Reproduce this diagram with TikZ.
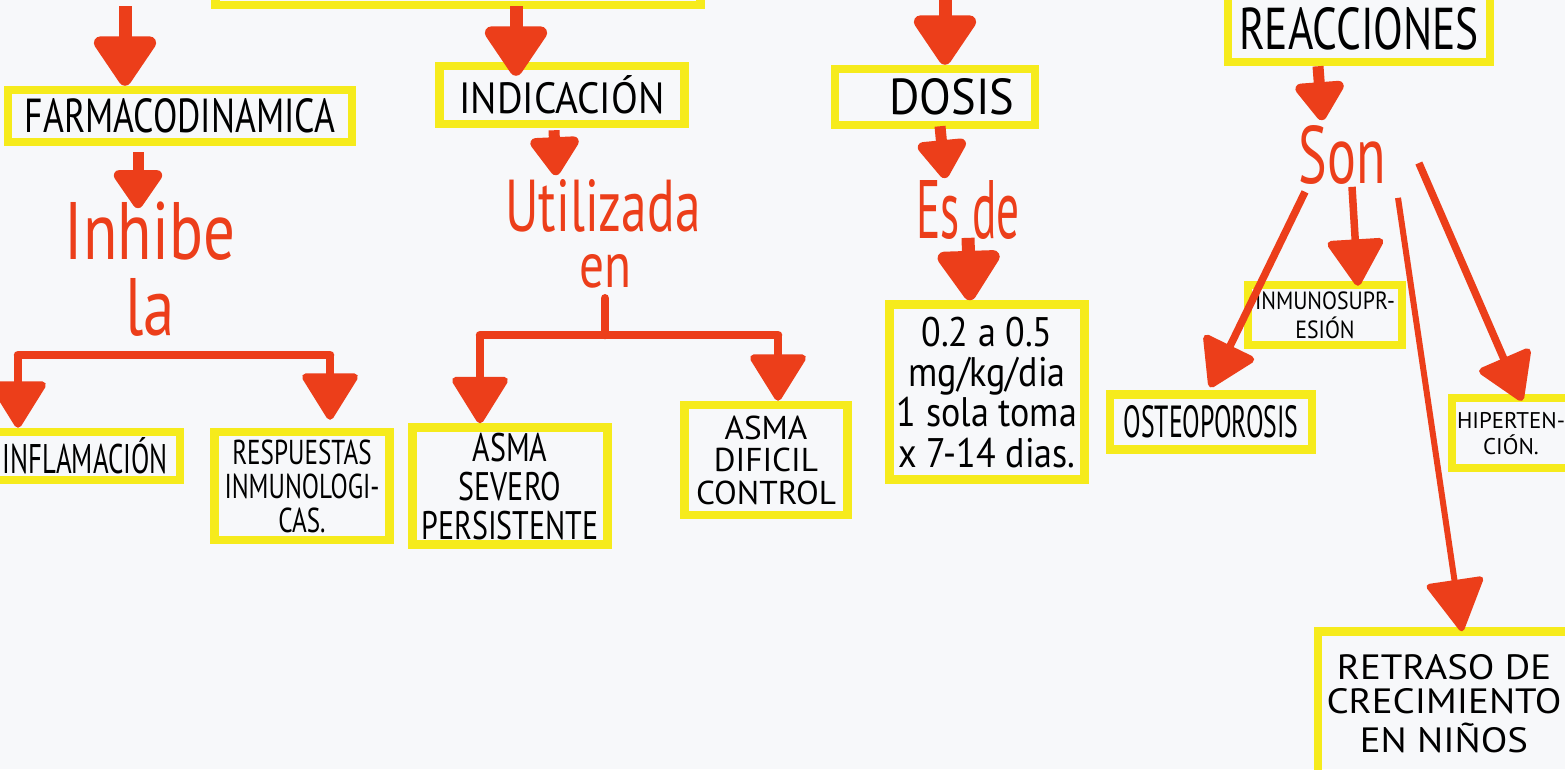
\documentclass[tikz,border=0pt]{standalone}
\usepackage{fontspec}
\setmainfont{PT Sans}
\usepackage{graphicx}
\usetikzlibrary{arrows.meta,calc}
\newlength\pxu \setlength\pxu{0.02cm}
\definecolor{redc}{RGB}{236,62,26}
\definecolor{yel}{RGB}{246,235,28}
\definecolor{bg}{RGB}{247,248,250}
% multi-line label stretched to a given width and height (in px), tight lines
\newcommand\hw[4][0.72]{\raisebox{0pt}[\height][0pt]{\resizebox{#2\pxu}{#3\pxu}{\def\arraystretch{#1}\begin{tabular}[b]{@{}c@{}}\rule{0pt}{0.72em}#4\end{tabular}}}}
% single-line label
\newcommand\hs[3]{\resizebox{#1\pxu}{#2\pxu}{#3}}
\tikzset{
  big/.style={draw=redc, line width=0.26cm, -{Triangle[width=1.4cm,length=1.1cm,round]}},
  mid/.style={draw=redc, line width=0.22cm, -{Triangle[width=1.1cm,length=0.85cm,round]}},
  thin/.style={draw=redc, line width=0.15cm, -{Triangle[width=1.2cm,length=1.0cm,round]}},
  brk/.style={draw=redc, line width=0.17cm, line cap=round, line join=round},
  box/.style={draw=yel, line width=0.17cm, inner sep=0pt, rectangle},
  rtxt/.style={text=redc, inner sep=0pt}
}
\begin{document}
\begin{tikzpicture}[x=0.02cm,y=-0.02cm]
\useasboundingbox (0,0) rectangle (1565,769);
\clip (0,0) rectangle (1565,769);
\fill[bg] (0,0) rectangle (1565,769);

% boxes
\node[box, minimum width=9.7cm, minimum height=1.8cm] (title) at (458,-40) {};
\node[box, minimum width=6.88cm, minimum height=1.04cm] (farm) at (180,116) {\hs{310}{34}{FARMACODINAMICA}};
\node[box, minimum width=4.9cm, minimum height=1.16cm] (indic) at (562,95) {\hs{205}{38}{INDICACIÓN}};
\node[box, minimum width=4.0cm, minimum height=1.12cm] (dosis) at (935,97) {\hspace*{34\pxu}\hs{125}{36}{DOSIS}};
\node[box, minimum width=5.24cm, minimum height=1.32cm] (reacc) at (1359,29) {\hs{240}{42}{REACCIONES}};
\node[box, minimum width=3.8cm, minimum height=0.96cm] (infl) at (85,456) {\hs{165}{36}{INFLAMACIÓN}};
\node[box, minimum width=3.5cm, minimum height=2.16cm] (resp) at (302,486) {\hw{155}{92}{RESPUESTAS\\INMUNOLOGI-\\CAS.}};
\node[box, minimum width=3.9cm, minimum height=2.34cm] (asev) at (510,486) {\hw{177}{106}{ASMA\\SEVERO\\PERSISTENTE}};
\node[box, minimum width=3.26cm, minimum height=2.2cm] (adif) at (766,460) {\hw{140}{88}{ASMA\\DIFICIL\\CONTROL}};
\node[box, minimum width=3.9cm, minimum height=3.5cm] (dose) at (987,392) {\hw{180}{150}{0.2 a 0.5\\mg/kg/dia\\1 sola toma\\x 7-14 dias.}};
\node[box, minimum width=4.04cm, minimum height=1.1cm] (osteo) at (1211,422) {\hs{175}{32}{OSTEOPOROSIS}};
\node[box, minimum width=3.08cm, minimum height=1.2cm] (inmuno) at (1325,315) {\hw{140}{46}{INMUNOSUPR-\\ESIÓN}};
\node[box, minimum width=2.36cm, minimum height=1.4cm] (hiper) at (1511,433) {\hw{108}{42}{HIPERTEN-\\CIÓN.}};
\node[box, minimum width=5.04cm, minimum height=2.86cm] (retra) at (1444,703) {\hw{235}{98}{RETRASO DE\\CRECIMIENTO\\EN NIÑOS}};

% red linking words
\node[rtxt] (inhibe) at (150,268) {\hw[0.66]{170}{135}{Inhibe\\la}};
\node[rtxt] (utiliz) at (603,206) {\hs{195}{52}{Utilizada}};
\node[rtxt] (en) at (605,271) {\hs{52}{33}{en}};
\node[rtxt] (esde) at (968,210) {\hs{103}{58}{Es de}};
\node[rtxt] (son) at (1342,155) {\hs{87}{58}{Son}};

% arrows from above
\coordinate (t1) at (125,6);
\coordinate (t2) at (516,6);
\coordinate (t3) at (945,-2);
\coordinate (t4) at (1300,-70);
\draw[big] (t1) -- (t1 |- farm.north);
\draw[big] (t2) -- ($(t2 |- indic.north)+(0,14)$);
\draw[big] (t3) -- (t3 |- dosis.north);
\draw[big] (t4) -- ($(t4 |- reacc.north)+(0,8)$);

% vertical chains
\draw[mid] ($(farm.south)+(-42,6)$) -- ($(inhibe.north)+(-12,8)$);
\draw[mid] ($(indic.south)+(-8,2)$) -- ($(utiliz.north)+(-47,-4)$);
\draw[mid] ($(dosis.south)+(5,-3)$) -- ($(esde.north)+(-23,-2)$);
\draw[big] ($(esde.south)+(0,-2)$) -- ($(dose.north)+(-17,0)$);
\draw[mid] ($(reacc.south)+(-41,0)$) -- ($(son.north)+(-20,-5)$);

% Inhibe la bracket
\coordinate (bl1) at (18,355);
\coordinate (bl2) at (330,355);
\draw[brk] (bl1) -- (bl2);
\draw[thin] (bl1) -- (bl1 |- infl.north);
\draw[thin] (bl2) -- ($(bl2 |- resp.north)+(0,-8)$);

% Utilizada en bracket
\coordinate (bu0) at (605,335);
\coordinate (bu1) at (480,335);
\coordinate (bu2) at (778,335);
\draw[brk] ($(en.south)+(0,10)$) -- (bu0);
\draw[brk] (bu1) -- (bu2);
\draw[thin] (bu1) -- (bu1 |- asev.north);
\draw[thin] (bu2) -- (bu2 |- adif.north);

% Son arrows
\draw[thin] ($(son.south)+(-37,7)$) -- ($(osteo.north)+(-1,-3)$);
\draw[thin] ($(son.south)+(10,2)$) -- ($(inmuno.north)+(33,5)$);
\draw[draw=redc, line width=0.12cm, -{Triangle[width=1.2cm,length=1.1cm,round]}] ($(son.south)+(56,13)$) -- ($(retra.north)+(18,4)$);
\draw[thin] ($(son.east)+(33,8)$) -- ($(hiper.north)+(11,7)$);
\end{tikzpicture}
\end{document}
